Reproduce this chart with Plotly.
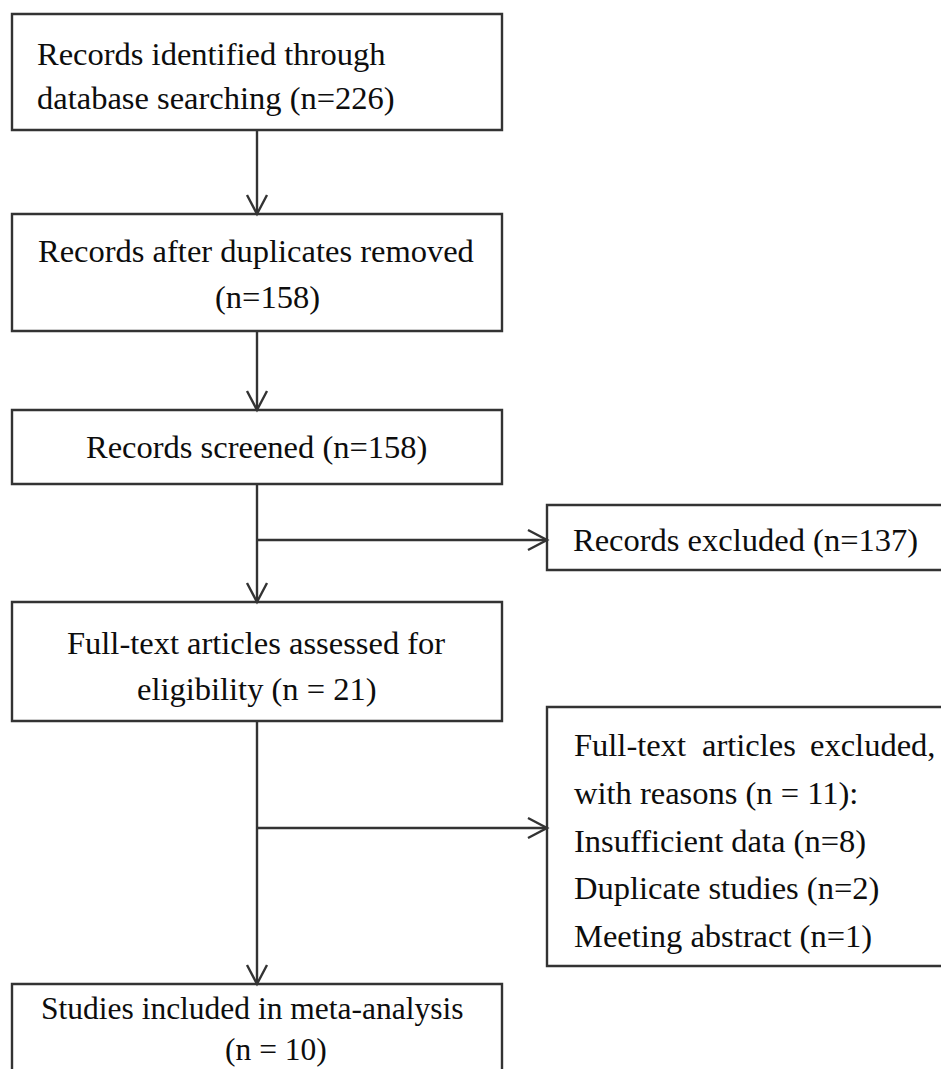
import plotly.graph_objects as go

# ---- data (flow counts and labels) ----
identified_n = 226
after_dup_n = 158
screened_n = 158
excluded_n = 137
fulltext_n = 21
fulltext_excl_n = 11
included_n = 10
reason_labels = ["Insufficient data", "Duplicate studies", "Meeting abstract"]
reason_counts = [8, 2, 1]

main_lines = [
    ["Records identified through", f"database searching (n={identified_n})"],
    ["Records after duplicates removed", f"(n={after_dup_n})"],
    [f"Records screened (n={screened_n})"],
    ["Full-text articles assessed for", f"eligibility (n = {fulltext_n})"],
]
final_lines = ["Studies included in meta-analysis", f"(n = {included_n})"]
side1_lines = [f"Records excluded (n={excluded_n})"]
side2_first_words = ["Full-text", "articles", "excluded,"]
side2_lines = [f"with reasons (n = {fulltext_excl_n}):"] + [
    f"{lab} (n={c})" for lab, c in zip(reason_labels, reason_counts)
]

# ---- layout geometry (page pixels, y downward) ----
W, H = 949, 1069
OFF = 8  # default page body margin
MX0, MX1 = 12, 502
CX = 257
main_box_y = [(14, 130), (214, 331), (410, 484), (602, 721)]
final_box_y = (984, 1100)
main_text_pos = [
    [(35, 54, "left"), (35, 98, "left")],
    [(256, 251, "center"), (267, 297, "center")],
    [(256, 447, "center")],
    [(256, 643, "center"), (256, 689, "center")],
]
final_text_pos = (252, 1069)
SX0, SX1 = 547, 965
side_box_y = [(505, 570), (707, 966)]
side_arrow_y = [540, 828]
side1_text_pos = [(571, 540)]
side2_first_pos = [(572, "left"), (700, "left"), (937, "right")]
side2_y = [745, 793, 841, 888, 936]

LINE = "#333333"
TXT = "#0d0d0d"
FONT = dict(family="Liberation Serif, Times New Roman, serif", size=32.5, color=TXT)
HW, HL = 10, 19  # arrowhead half-width, length

shapes = []
annotations = []

def rect(x0, y0, x1, y1):
    shapes.append(dict(type="rect", xref="x", yref="y", x0=x0, y0=y0, x1=x1, y1=y1,
                       line=dict(color=LINE, width=2.4), fillcolor="rgba(0,0,0,0)", layer="above"))

def seg(x0, y0, x1, y1):
    shapes.append(dict(type="line", xref="x", yref="y", x0=x0, y0=y0, x1=x1, y1=y1,
                       line=dict(color=LINE, width=2.4)))

def head_down(x, y):
    shapes.append(dict(type="path", xref="x", yref="y",
                       path=f"M {x-HW},{y-HL} L {x},{y} L {x+HW},{y-HL}",
                       line=dict(color=LINE, width=2.4)))

def head_right(x, y):
    shapes.append(dict(type="path", xref="x", yref="y",
                       path=f"M {x-HL},{y-HW} L {x},{y} L {x-HL},{y+HW}",
                       line=dict(color=LINE, width=2.4)))

def text(x, y, s, anchor, font=FONT, yanchor="middle"):
    annotations.append(dict(x=x, y=y, xref="x", yref="y", text=s, showarrow=False,
                            xanchor=anchor, yanchor=yanchor, align="center", font=font))

# main boxes
for (y0, y1), lines, pos in zip(main_box_y, main_lines, main_text_pos):
    rect(MX0, y0, MX1, y1)
    for s, (x, y, a) in zip(lines, pos):
        text(x, y, s, a)

# final (bottom) box
rect(MX0, final_box_y[0], MX1, final_box_y[1])
final_font = dict(FONT, size=31.5)
text(final_text_pos[0], final_text_pos[1],
     final_lines[0] + "<br>" + "\u00a0" * 6 + final_lines[1], "center", final_font,
     yanchor="bottom")

# vertical connectors
all_y = main_box_y + [final_box_y]
for i in range(len(all_y) - 1):
    y0 = all_y[i][1]
    y1 = all_y[i + 1][0]
    seg(CX, y0, CX, y1)
    head_down(CX, y1)

# side boxes
for (y0, y1), ay in zip(side_box_y, side_arrow_y):
    rect(SX0, y0, SX1, y1)
    seg(CX, ay, SX0, ay)
    head_right(SX0, ay)

for s, (x, y) in zip(side1_lines, side1_text_pos):
    text(x, y, s, "left")
for w, (x, a) in zip(side2_first_words, side2_first_pos):
    text(x, side2_y[0], w, a)
for s, y in zip(side2_lines, side2_y[1:]):
    text(572, y, s, "left")

fig = go.Figure()
fig.add_trace(go.Scatter(x=[OFF, W], y=[OFF, H], mode="markers",
                         marker=dict(opacity=0), hoverinfo="skip", showlegend=False))
fig.update_layout(
    width=W - OFF, height=H - OFF, margin=dict(l=0, r=0, t=0, b=0),
    paper_bgcolor="white", plot_bgcolor="white",
    shapes=shapes, annotations=annotations,
    xaxis=dict(range=[OFF, W], visible=False, fixedrange=True),
    yaxis=dict(range=[H, OFF], visible=False, fixedrange=True),
)
fig.write_html("out.html")
